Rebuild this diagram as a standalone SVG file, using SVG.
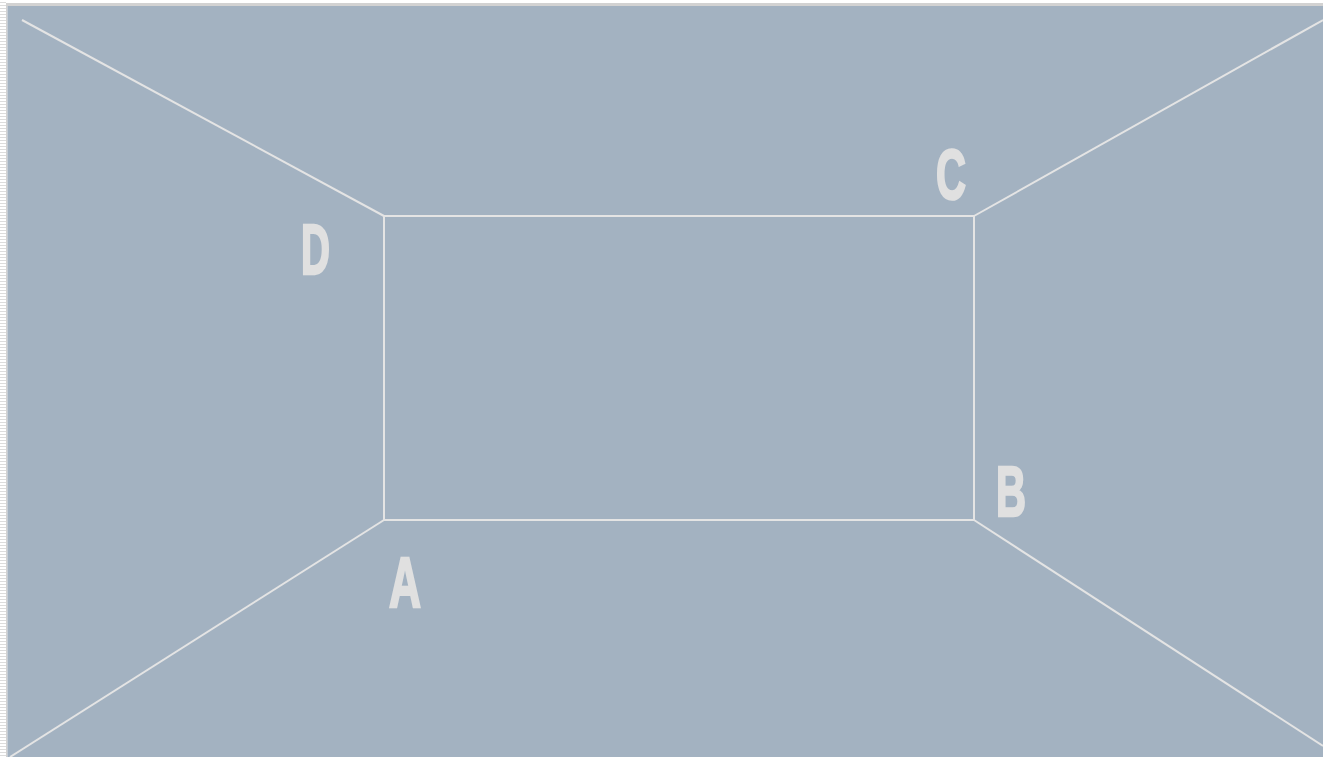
<svg xmlns="http://www.w3.org/2000/svg" width="1323" height="757" viewBox="0 0 1323 757">
<defs>
<pattern id="stripes" x="0" y="0" width="6" height="3" patternUnits="userSpaceOnUse">
<rect x="0" y="0" width="6" height="3" fill="#ffffff"/>
<rect x="0" y="2" width="6" height="1" fill="#dcdcdc"/>
</pattern>
<style>
.edge{stroke:#e4e4e4;stroke-width:2;fill:none}
.lbl{font-family:"Liberation Sans Narrow","Liberation Sans",sans-serif;font-weight:bold;font-size:70px;fill:#e0e0e0;stroke:#e0e0e0;stroke-width:2.5;stroke-linejoin:miter}
</style>
</defs>
<rect x="0" y="0" width="1323" height="757" fill="#ffffff"/>
<rect x="0" y="0" width="6" height="757" fill="url(#stripes)"/>
<rect x="6" y="3" width="1317" height="3" fill="#d2d2d2"/>
<rect x="6" y="3" width="1.5" height="754" fill="#d2d2d2"/>
<rect x="7.5" y="6" width="1315.5" height="751" fill="#a3b2c1"/>
<g id="connectors">
<line class="edge" x1="22" y1="20" x2="384" y2="216"/>
<line class="edge" x1="974" y1="216" x2="1323" y2="20"/>
<line class="edge" x1="384" y1="520" x2="10" y2="757"/>
<line class="edge" x1="974" y1="520" x2="1323" y2="746"/>
</g>
<g id="room">
<rect class="edge" x="384" y="216" width="590" height="304"/>
</g>
<g id="D"><text class="lbl" x="301" y="274" textLength="29" lengthAdjust="spacingAndGlyphs">D</text></g>
<g id="C"><text class="lbl" x="936" y="199" textLength="30" lengthAdjust="spacingAndGlyphs">C</text></g>
<g id="B"><text class="lbl" x="996" y="516" textLength="30" lengthAdjust="spacingAndGlyphs">B</text></g>
<g id="A"><text class="lbl" x="389" y="607" textLength="32" lengthAdjust="spacingAndGlyphs">A</text></g>
</svg>
